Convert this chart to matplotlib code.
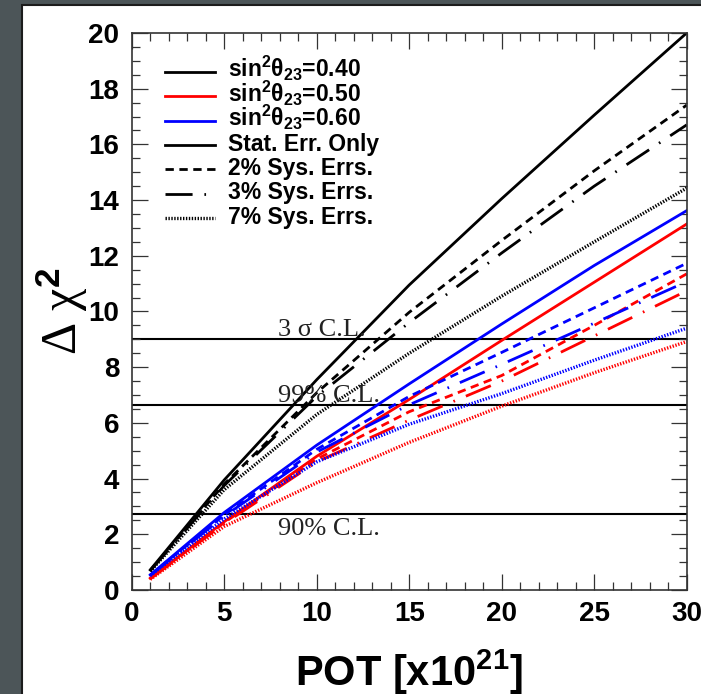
import matplotlib
matplotlib.use("Agg")
import matplotlib.pyplot as plt
from matplotlib.patches import Rectangle
from matplotlib.ticker import MultipleLocator

plt.rcParams["lines.scale_dashes"] = False
plt.rcParams["mathtext.fontset"] = "custom"
plt.rcParams["mathtext.bf"] = "Liberation Sans:bold"
plt.rcParams["mathtext.default"] = "regular"

# exposure in units of 10^21 POT
pot = [1, 5, 10, 15, 20, 25, 30]

# delta chi^2 for sin^2(theta23) = 0.40
s40_stat = [0.72, 3.95, 7.55, 10.95, 14.05, 17.05, 20.0]
s40_sys2 = [0.70, 3.80, 7.08, 9.97, 12.55, 15.05, 17.41]
s40_sys3 = [0.69, 3.75, 6.95, 9.60, 12.10, 14.50, 16.70]
s40_sys7 = [0.67, 3.60, 6.30, 8.50, 10.55, 12.50, 14.43]

# sin^2(theta23) = 0.50
s50_stat = [0.42, 2.45, 4.80, 6.84, 8.96, 11.05, 13.14]
s50_sys2 = [0.41, 2.42, 4.70, 6.40, 7.70, 9.50, 11.35]
s50_sys3 = [0.40, 2.38, 4.60, 6.10, 7.50, 9.12, 10.74]
s50_sys7 = [0.38, 2.28, 3.85, 5.30, 6.60, 7.80, 8.92]

# sin^2(theta23) = 0.60
s60_stat = [0.54, 2.78, 5.20, 7.40, 9.55, 11.65, 13.62]
s60_sys2 = [0.53, 2.69, 5.05, 6.95, 8.53, 10.13, 11.73]
s60_sys3 = [0.52, 2.65, 4.95, 6.65, 8.10, 9.58, 11.07]
s60_sys7 = [0.52, 2.55, 4.60, 5.95, 7.05, 8.25, 9.40]

cl_values = [9.0, 6.63, 2.71]
cl_labels = ["3 σ C.L.", "99% C.L.", "90% C.L."]

solid = "-"
dashed = (0, (6, 4))
dashdot = (0, (19.5, 8.5, 1.2, 8.5))
dotted = (0, (1.0, 1.1))

curves = [
    (s40_stat, "black", solid), (s40_sys2, "black", dashed),
    (s40_sys3, "black", dashdot), (s40_sys7, "black", dotted),
    (s50_stat, "#ff0000", solid), (s50_sys2, "#ff0000", dashed),
    (s50_sys3, "#ff0000", dashdot), (s50_sys7, "#ff0000", dotted),
    (s60_stat, "#0000ff", solid), (s60_sys2, "#0000ff", dashed),
    (s60_sys3, "#0000ff", dashdot), (s60_sys7, "#0000ff", dotted),
]

fig = plt.figure(figsize=(7.01, 6.94), dpi=100, facecolor="#4c5558")
fig.patches.append(Rectangle((22 / 701, -0.01), 1.0, 1 - 5 / 694 + 0.01,
                             transform=fig.transFigure, facecolor="white",
                             edgecolor="#1c1c1c", lw=1.5, zorder=-10))

ax = fig.add_axes([0.1879, 0.1499, 0.7917, 0.8026])

for yv in cl_values:
    ax.axhline(yv, color="black", lw=1.5, zorder=1)

cl_text_y = [9.12, 6.75, 1.98]
for lab, yt in zip(cl_labels, cl_text_y):
    ax.text(7.9, yt, lab, family="Liberation Serif", fontsize=19,
            color="#222222", va="baseline")

for ys, col, ls in curves:
    lw = 2.4 if ls == dotted else 2.0
    ax.plot(pot, ys, color=col, linestyle=ls, lw=lw, zorder=2)

# legend drawn by hand so the rows stay evenly spaced
leg_rows = [
    ("sin$^{2}$θ$_{23}$=0.40", "black", solid),
    ("sin$^{2}$θ$_{23}$=0.50", "#ff0000", solid),
    ("sin$^{2}$θ$_{23}$=0.60", "#0000ff", solid),
    ("Stat. Err. Only", "black", solid),
    ("2% Sys. Errs.", "black", dashed),
    ("3% Sys. Errs.", "black", dashdot),
    ("7% Sys. Errs.", "black", dotted),
]
for i, (lab, col, ls) in enumerate(leg_rows):
    ypix = 71.7 + 24.45 * i
    yax = (590 - ypix) / 557
    lw = 2.4 if ls == dotted else 2.0
    ax.plot([0.060, 0.150], [yax, yax], transform=ax.transAxes,
            color=col, linestyle=ls, lw=lw, clip_on=False)
    ax.text(0.173, yax - 5.5 / 557, lab, transform=ax.transAxes,
            fontsize=16.5, fontweight="bold", family="Liberation Sans",
            va="baseline", ha="left")

ax.set_xlim(0, 30)
ax.set_ylim(0, 20)
ax.xaxis.set_major_locator(MultipleLocator(5))
ax.xaxis.set_minor_locator(MultipleLocator(1))
ax.yaxis.set_major_locator(MultipleLocator(2))
ax.yaxis.set_minor_locator(MultipleLocator(0.5))
ax.tick_params(which="both", direction="in", top=True, right=True,
               color="#333333", width=0.9)
ax.tick_params(which="major", length=11.5)
ax.tick_params(which="minor", length=5.5)
ax.tick_params(axis="x", which="major", pad=8)
ax.tick_params(axis="y", which="major", pad=9)
for lbl in ax.get_xticklabels() + ax.get_yticklabels():
    lbl.set_fontfamily("Liberation Sans")
    lbl.set_fontweight("bold")
    lbl.set_fontsize(20)
for sp in ax.spines.values():
    sp.set_linewidth(1.2)
    sp.set_color("#333333")

ax.set_xlabel("POT [x10$^{21}$]", fontsize=30, fontweight="bold",
              family="Liberation Sans", va="baseline")
ax.xaxis.set_label_coords(0.5, (590 - 686) / 557)
ax.set_ylabel("Δ χ$^{\\mathbf{2}}$", fontsize=36, family="Liberation Serif",
              va="center")
ax.yaxis.set_label_coords((62 - 131.7) / 555, 0.5)

fig.savefig("out.png", dpi=100, facecolor=fig.get_facecolor())
